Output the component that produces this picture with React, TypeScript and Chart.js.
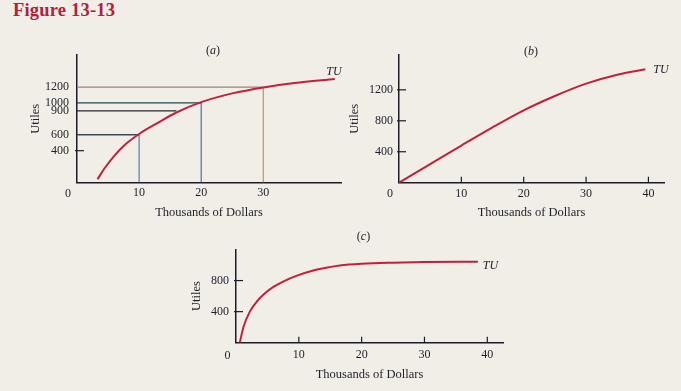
import React, { useEffect, useRef } from "react";
import { Chart, registerables } from "chart.js";

Chart.register(...registerables);

const FONT = "'Liberation Serif', 'DejaVu Serif', serif";
const TEXT = "#1f1e2a";
const AXIS = "#1d1b28";
const CURVE = "#c41f3c";

// ---------- Panel (a) ----------
const aCurveX = [3.3, 4.5, 6, 7.5, 10, 13, 16, 20, 25, 30, 35, 41.5];
const aCurveY = [40, 185, 335, 460, 610, 750, 880, 1010, 1120, 1195, 1250, 1300];
const aRefX = [10, 20, 30];
const aRefY = [600, 1000, 1200];
const aExtraX = 16;
const aExtraY = 900;
const aXTicks = [10, 20, 30];
const aYTicks = [400, 600, 900, 1000, 1200];

// ---------- Panel (b) ----------
const bCurveX = [0, 5, 10, 15, 20, 25, 30, 35, 39.5];
const bCurveY = [0, 240, 480, 715, 935, 1120, 1280, 1395, 1465];
const bXTicks = [10, 20, 30, 40];
const bYTicks = [400, 800, 1200];

// ---------- Panel (c) ----------
const cCurveX = [0.6, 1.2, 2.2, 3.3, 4.3, 5.9, 7.5, 9.6, 12.3, 14.9, 16.5, 20, 25, 30, 38.5];
const cCurveY = [0, 206, 400, 529, 615, 715, 787, 860, 929, 973, 994, 1016, 1030, 1038, 1042];
const cXTicks = [10, 20, 30, 40];
const cYTicks = [400, 800];

const aHColors = ["#3c4a58", "#1f4a52", "#9a8575"];
const aExtraColor = "#26262e";
const aVColors = ["#5d88b5", "#4f7fa8", "#d09a58"];

const curveDs = (xs: number[], ys: number[]) => ({
  data: xs.map((x, i) => ({ x, y: ys[i] })),
  borderColor: CURVE,
  borderWidth: 2,
  pointRadius: 0,
  tension: 0.4,
  cubicInterpolationMode: "monotone",
  fill: false,
});

const seg = (pts: { x: number; y: number }[], color: string) => ({
  data: pts,
  borderColor: color,
  borderWidth: 1.3,
  pointRadius: 0,
  tension: 0,
  fill: false,
});

const innerTicks = {
  id: "innerTicks",
  afterDatasetsDraw(chart: any, _args: any, opts: any) {
    const { ctx, chartArea, scales } = chart;
    ctx.save();
    ctx.strokeStyle = AXIS;
    ctx.lineWidth = 1.2;
    (opts.x || []).forEach((v: number) => {
      const px = scales.x.getPixelForValue(v);
      ctx.beginPath();
      ctx.moveTo(px, chartArea.bottom);
      ctx.lineTo(px, chartArea.bottom - 6);
      ctx.stroke();
    });
    (opts.y || []).forEach((v: number) => {
      const py = scales.y.getPixelForValue(v);
      ctx.beginPath();
      ctx.moveTo(chartArea.left - 2, py);
      ctx.lineTo(chartArea.left + 7, py);
      ctx.stroke();
    });
    ctx.restore();
  },
};

type Spec = {
  left: number;
  top: number;
  width: number;
  height: number;
  xMax: number;
  yMax: number;
  xTicks: number[];
  yTicks: number[];
  innerX: number[];
  innerY: number[];
  yWidth: number;
  xHeight: number;
  padTop: number;
  padRight: number;
  yLabelPad: number;
  xLabelPad: number;
  yTitlePad: number;
  xTitlePad: number;
  datasets: any[];
};

function makeConfig(s: Spec): any {
  return {
    type: "line",
    data: { datasets: s.datasets },
    plugins: [innerTicks],
    options: {
      animation: false,
      responsive: false,
      maintainAspectRatio: false,
      layout: { padding: { top: s.padTop, right: s.padRight, left: 0, bottom: 0 } },
      plugins: {
        legend: { display: false },
        title: { display: false },
        tooltip: { enabled: false },
        innerTicks: { x: s.innerX, y: s.innerY },
      },
      scales: {
        x: {
          type: "linear",
          min: 0,
          max: s.xMax,
          afterBuildTicks: (sc: any) => {
            sc.ticks = s.xTicks.map((v) => ({ value: v }));
          },
          afterFit: (sc: any) => {
            sc.height = s.xHeight;
          },
          grid: { display: false, drawTicks: false },
          border: { display: true, color: AXIS, width: 1.5 },
          ticks: {
            padding: s.xLabelPad,
            color: TEXT,
            autoSkip: false,
            maxRotation: 0,
            font: { family: FONT, size: 12 },
            callback: (v: any) => String(v),
          },
          title: {
            display: true,
            text: "Thousands of Dollars",
            color: TEXT,
            font: { family: FONT, size: 12.5 },
            padding: { top: 0, bottom: s.xTitlePad },
          },
        },
        y: {
          type: "linear",
          min: 0,
          max: s.yMax,
          afterBuildTicks: (sc: any) => {
            sc.ticks = s.yTicks.map((v) => ({ value: v }));
          },
          afterFit: (sc: any) => {
            sc.width = s.yWidth;
          },
          grid: { display: false, drawTicks: false },
          border: { display: true, color: AXIS, width: 1.5 },
          ticks: {
            padding: s.yLabelPad,
            color: TEXT,
            autoSkip: false,
            font: { family: FONT, size: 12 },
            callback: (v: any) => String(v),
          },
          title: {
            display: true,
            text: "Utiles",
            color: TEXT,
            font: { family: FONT, size: 12.5 },
            padding: { top: s.yTitlePad, bottom: 0 },
          },
        },
      },
    },
  };
}

const specA: Spec = {
  left: 0,
  top: 40,
  width: 345,
  height: 185,
  xMax: 42.5,
  yMax: 1600,
  xTicks: aXTicks,
  yTicks: aYTicks,
  innerX: [],
  innerY: [400],
  yWidth: 77,
  xHeight: 42.5,
  padTop: 15,
  padRight: 4,
  yLabelPad: 8,
  xLabelPad: 3.5,
  yTitlePad: 28.5,
  xTitlePad: 4.5,
  datasets: [
    curveDs(aCurveX, aCurveY),
    ...aRefY.map((y, i) => seg([{ x: 0, y }, { x: aRefX[i], y }], aHColors[i])),
    seg([{ x: 0, y: aExtraY }, { x: aExtraX, y: aExtraY }], aExtraColor),
    ...aRefX.map((x, i) => seg([{ x, y: 0 }, { x, y: aRefY[i] }], aVColors[i])),
  ],
};

const specB: Spec = {
  left: 345,
  top: 40,
  width: 336,
  height: 185,
  xMax: 42.5,
  yMax: 1650,
  xTicks: bXTicks,
  yTicks: bYTicks,
  innerX: bXTicks,
  innerY: bYTicks,
  yWidth: 54,
  xHeight: 42.3,
  padTop: 15,
  padRight: 17,
  yLabelPad: 6,
  xLabelPad: 3.5,
  yTitlePad: 2.5,
  xTitlePad: 4.5,
  datasets: [curveDs(bCurveX, bCurveY)],
};

const specC: Spec = {
  left: 150,
  top: 225,
  width: 381,
  height: 166,
  xMax: 42.5,
  yMax: 1200,
  xTicks: cXTicks,
  yTicks: cYTicks,
  innerX: cXTicks,
  innerY: cYTicks,
  yWidth: 86,
  xHeight: 48.3,
  padTop: 24.5,
  padRight: 28,
  yLabelPad: 7,
  xLabelPad: 4.5,
  yTitlePad: 39.2,
  xTitlePad: 8.5,
  datasets: [curveDs(cCurveX, cCurveY)],
};

function Panel({ spec }: { spec: Spec }) {
  const ref = useRef<HTMLCanvasElement | null>(null);
  useEffect(() => {
    if (!ref.current) return;
    const chart = new Chart(ref.current, makeConfig(spec));
    return () => chart.destroy();
  }, [spec]);
  return (
    <canvas
      ref={ref}
      width={spec.width}
      height={spec.height}
      style={{
        position: "absolute",
        left: spec.left,
        top: spec.top,
        width: spec.width,
        height: spec.height,
      }}
    />
  );
}

function Label({
  x,
  y,
  text,
  italic,
  size = 12,
}: {
  x: number;
  y: number;
  text: React.ReactNode;
  italic?: boolean;
  size?: number;
}) {
  return (
    <div
      style={{
        position: "absolute",
        left: x,
        top: y,
        transform: "translate(-50%, -50%)",
        fontFamily: FONT,
        fontSize: size,
        lineHeight: 1,
        color: TEXT,
        fontStyle: italic ? "italic" : "normal",
        whiteSpace: "nowrap",
      }}
    >
      {text}
    </div>
  );
}

export default function App() {
  return (
    <div
      style={{
        position: "absolute",
        left: 0,
        top: 0,
        width: 681,
        height: 391,
        background: "#f1eee7",
        overflow: "hidden",
      }}
    >
      <div
        style={{
          position: "absolute",
          left: 13,
          top: 1,
          fontFamily: FONT,
          fontWeight: "bold",
          fontSize: 18.5,
          lineHeight: "18px",
          color: "#b3203d",
          letterSpacing: 0.2,
          whiteSpace: "nowrap",
        }}
      >
        Figure 13-13
      </div>
      <Panel spec={specA} />
      <Panel spec={specB} />
      <Panel spec={specC} />
      <Label x={213} y={50} text={<span>(<i>a</i>)</span>} />
      <Label x={531} y={51} text={<span>(<i>b</i>)</span>} />
      <Label x={363.5} y={236} text={<span>(<i>c</i>)</span>} />
      <Label x={68} y={193} text="0" />
      <Label x={390} y={193} text="0" />
      <Label x={227.5} y={354.5} text="0" />
      <Label x={334} y={71} text="TU" italic />
      <Label x={661} y={69} text="TU" italic />
      <Label x={490.5} y={265} text="TU" italic />
    </div>
  );
}
